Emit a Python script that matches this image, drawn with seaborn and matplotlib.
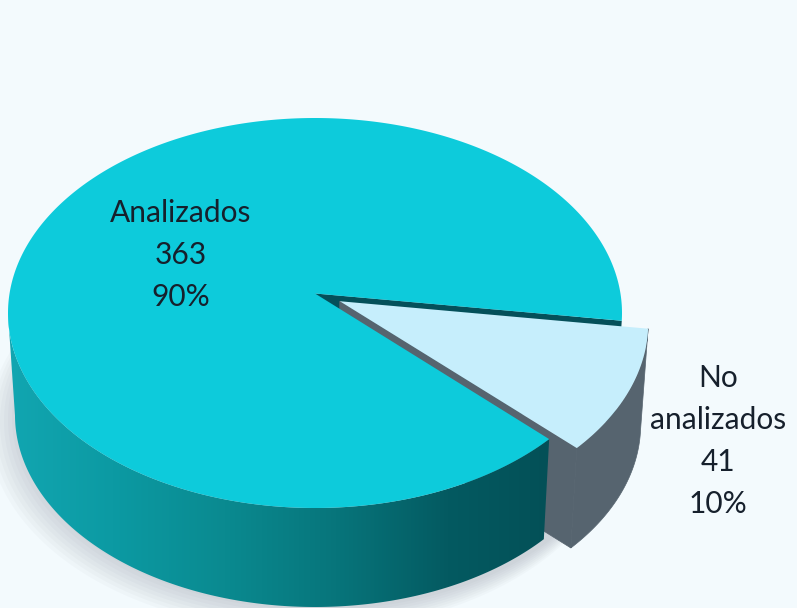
import numpy as np
import matplotlib
matplotlib.use("Agg")
import matplotlib.pyplot as plt
from matplotlib.colors import LinearSegmentedColormap
from matplotlib.patches import Polygon
import seaborn as sns

# data
categories = ["Analizados", "No\nanalizados"]
counts = [363, 41]
explode = [0, 0.09]

sns.set_theme(style="white")
plt.rcParams["font.family"] = ["Lato", "DejaVu Sans"]
top_colors = sns.color_palette(["#0dcbdb", "#c6eefc"])

BG = "#f3fafd"
GREY_WALL = "#56646f"
DARK_CUT = "#04505a"
TEXT = "#16202c"

# size of the drawing in pixels, pie ellipse
W, H = 797, 608
CX, CY, A, B = 315, 313, 307, 195
TILT = 0.1               # perspective: moves the pie centre up inside the ellipse
BOT_A, BOT_B, BOT_CY = 300, 192, 415


def tilt(u, v):
    # projective map of the unit disc on itself, straight cuts stay straight
    d = 1 + TILT * v
    return u * np.sqrt(1 - TILT ** 2) / d, (v + TILT) / d


def floor(x, y):
    # the same point on the lower rim of the pie
    return x * BOT_A / A, (CY - BOT_CY) / B + y * BOT_B / B


def arc(wedge, start, stop, n=300):
    th = np.radians(np.linspace(start, stop, n))
    cx, cy = wedge.center
    return tilt(cx + wedge.r * np.cos(th), cy + wedge.r * np.sin(th))


def px(x_px, y_px):
    return (x_px - CX) / A, (CY - y_px) / B


fig = plt.figure(figsize=(W / 100, H / 100), dpi=100, facecolor=BG)
ax = fig.add_axes([0, 0, 1, 1])

wedges, _ = ax.pie(counts, explode=explode, startangle=-8, counterclock=True,
                   colors=top_colors, radius=1)
main, small = wedges
for w in wedges:
    w.set_visible(False)
ax.set_aspect("auto")

# soft shadow under the pie
th = np.linspace(0, 2 * np.pi, 300)
for k in range(1, 9):
    sx = (BOT_A + 2 * k) * np.cos(th) - 2 * k + 5
    sy = BOT_CY + 1.5 * k - (BOT_B + 1.5 * k) * np.sin(th)
    ax.fill(sx / A, (CY - sy) / B, color="#6a6f80", alpha=0.035, lw=0, zorder=1)

# dark cut face of the big slice, only seen through the gap
tip = tilt(*main.center)
cx1, cy1 = arc(main, main.theta1, main.theta1, 1)
fx1, fy1 = floor(cx1[0], cy1[0])
tfx, tfy = floor(*tip)
ax.fill([tip[0], cx1[0], fx1, tfx], [tip[1], cy1[0], fy1, tfy],
        color=DARK_CUT, lw=0, zorder=2)

# wall of the pulled-out slice, outer side and cut side
ux, uy = arc(small, small.theta1, small.theta2)
fx, fy = floor(ux, uy)
ax.fill(np.r_[ux, fx[::-1]], np.r_[uy, fy[::-1]], color=GREY_WALL, lw=0.5, zorder=3)
stip = tilt(*small.center)
stfx, stfy = floor(*stip)
ax.fill([stip[0], ux[0], fx[0], stfx], [stip[1], uy[0], fy[0], stfy],
        color=GREY_WALL, lw=0.5, zorder=3)

# wall of the big slice with horizontal shading
mx, my = arc(main, 180, main.theta2)
keep = my <= 0
mx, my = mx[keep], my[keep]
bx, by = floor(mx, my)
wall = Polygon(np.c_[np.r_[mx, bx[::-1]], np.r_[my, by[::-1]]], closed=True,
               transform=ax.transData, fc="none", ec="none", zorder=4)
ax.add_patch(wall)
shade = LinearSegmentedColormap.from_list(
    "wall", ["#12a7b2", "#0c9aa3", "#0a8a90", "#07757b", "#045a61", "#034f56"])
x0, _ = px(0, 0)
x1, _ = px(560, 0)
img = ax.imshow(np.linspace(0, 1, 256)[None, :], cmap=shade, aspect="auto",
                extent=(x0, x1, -1.6, 1.6), zorder=4)
img.set_clip_path(wall)

# top faces
for w, col, z in ((main, top_colors[0], 5), (small, top_colors[1], 6)):
    ax_, ay_ = arc(w, w.theta1, w.theta2, 500)
    ox, oy = tilt(*w.center)
    ax.fill(np.r_[ox, ax_], np.r_[oy, ay_], color=col, lw=0, zorder=z)

# labels
total = sum(counts)
label_pos = [(181, 213), (718, 378)]
for name, n, (lx, ly) in zip(categories, counts, label_pos):
    lines = name.split("\n") + [str(n), f"{round(n / total * 100)}%"]
    for i, line in enumerate(lines):
        tx, ty = px(lx, ly + i * 42)
        ax.text(tx, ty, line, ha="center", va="center", fontsize=21.5,
                color=TEXT, zorder=7)

xa, ya = px(0, 0)
xb, yb = px(W, H)
ax.set_xlim(xa, xb)
ax.set_ylim(yb, ya)
ax.axis("off")

fig.savefig("out.png", dpi=100, facecolor=BG)
